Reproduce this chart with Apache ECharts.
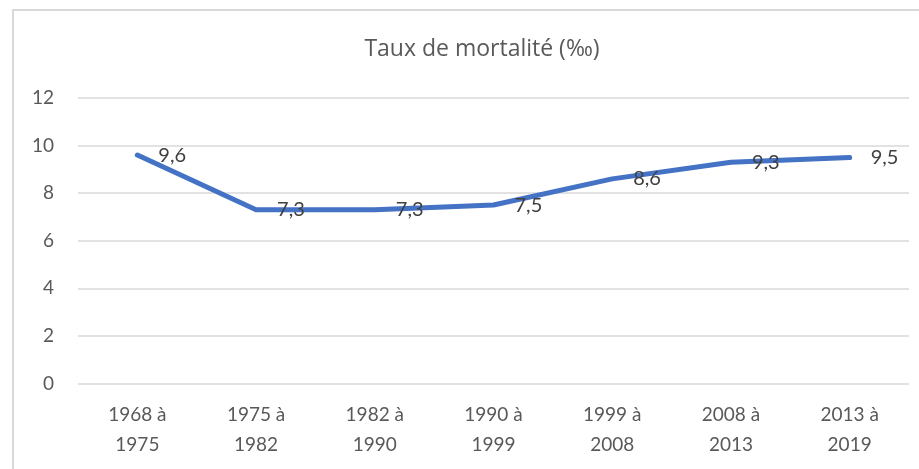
<!DOCTYPE html>
<html>
<head>
<meta charset="utf-8">
<script src="https://cdn.jsdelivr.net/npm/echarts@6/dist/echarts.min.js"></script>
<style>
  html, body { margin: 0; padding: 0; background: #fff; }
  #chart { width: 919px; height: 469px; }
</style>
</head>
<body>
<div id="chart"></div>
<script>
// Periods between censuses and the mortality rate (per thousand) for each
const periods = ['1968 à\n1975', '1975 à\n1982', '1982 à\n1990', '1990 à\n1999', '1999 à\n2008', '2008 à\n2013', '2013 à\n2019'];
const mortalityRate = [9.6, 7.3, 7.3, 7.5, 8.6, 9.3, 9.5];
const yTicks = { min: 0, max: 12, step: 2 };
const chartTitle = 'Taux de mortalité (‰)';

const FONT = 'Lato, "Open Sans", sans-serif';
const TITLE_FONT = '"Open Sans", Lato, sans-serif';
const chart = echarts.init(document.getElementById('chart'));

chart.setOption({
  backgroundColor: '#ffffff',
  animation: false,
  title: {
    text: chartTitle,
    left: 477,
    textAlign: 'center',
    top: 33,
    textStyle: { fontFamily: TITLE_FONT, fontSize: 23, fontWeight: 'normal', color: '#595959' }
  },
  graphic: [{
    type: 'rect',
    shape: { x: 13, y: 10, width: 940, height: 480 },
    style: { fill: 'none', stroke: '#d9d9d9', lineWidth: 2 },
    silent: true,
    z: -1
  }],
  grid: { left: 78, right: 10, top: 98, bottom: 85.5, containLabel: false },
  xAxis: {
    type: 'category',
    data: periods,
    boundaryGap: true,
    axisLine: { show: false },
    axisTick: { show: false },
    axisLabel: {
      margin: 16,
      fontFamily: FONT,
      fontSize: 19,
      lineHeight: 30,
      color: '#595959',
      interval: 0
    }
  },
  yAxis: {
    type: 'value',
    min: yTicks.min,
    max: yTicks.max,
    interval: yTicks.step,
    axisLine: { show: false },
    axisTick: { show: false },
    splitLine: { lineStyle: { color: '#d9d9d9', width: 1.5 } },
    axisLabel: {
      margin: 24,
      fontFamily: FONT,
      fontSize: 19,
      color: '#595959'
    }
  },
  series: [{
    type: 'line',
    data: mortalityRate,
    symbol: 'circle',
    symbolSize: 4,
    showSymbol: true,
    itemStyle: { color: '#4472C4' },
    lineStyle: { color: '#4472C4', width: 5, cap: 'round', join: 'round' },
    label: {
      show: true,
      position: 'right',
      distance: 19,
      fontFamily: FONT,
      fontSize: 20,
      color: '#404040',
      formatter: p => String(p.value).replace('.', ',')
    }
  }]
});
</script>
</body>
</html>
